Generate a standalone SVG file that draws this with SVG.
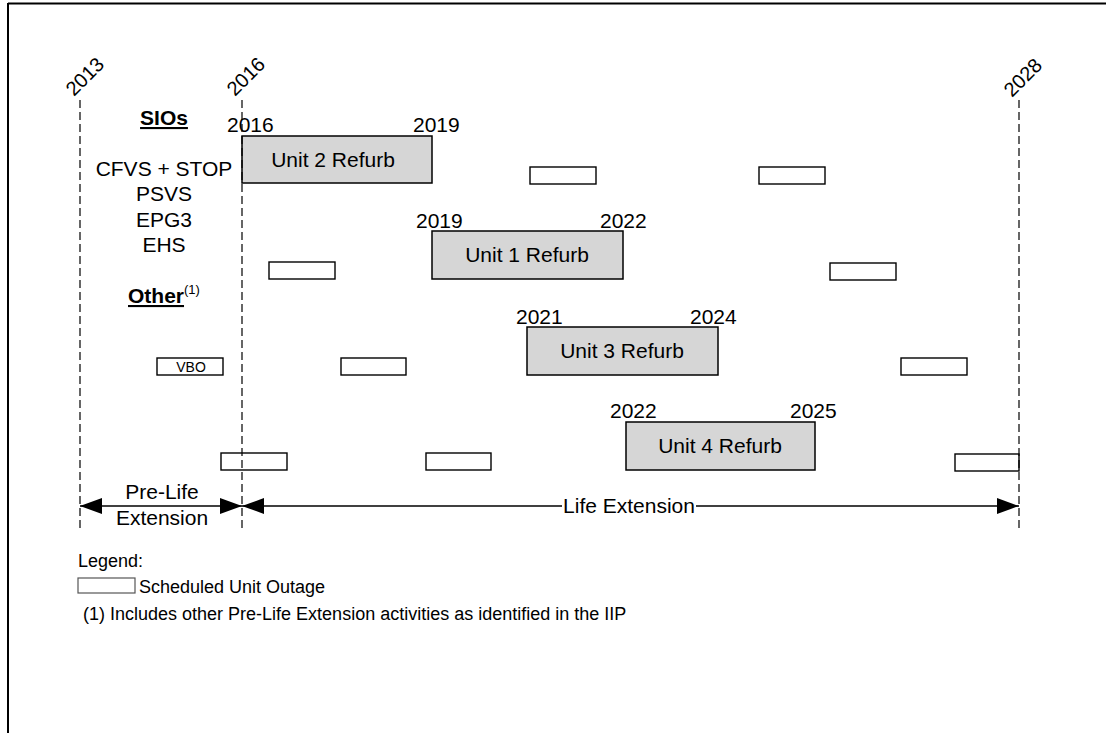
<svg xmlns="http://www.w3.org/2000/svg" width="1106" height="733" viewBox="0 0 1106 733">
<style>
text{font-family:"Liberation Sans",Arial,sans-serif;fill:#000}
.t21{font-size:21px}
.t18{font-size:18px}
.yr{font-size:20px}
.bu{font-weight:bold;text-decoration:underline}
.refurb{fill:#d6d6d6;stroke:#000;stroke-width:1.5}
.out{fill:#fff;stroke:#000;stroke-width:1.4}
.dash{stroke:#000;stroke-width:1.2;stroke-dasharray:8 4;fill:none}
.line{stroke:#000;stroke-width:1.3;fill:none}
</style>
<defs>
<marker id="ah" markerWidth="22" markerHeight="16" refX="22" refY="8" orient="auto-start-reverse" markerUnits="userSpaceOnUse">
<path d="M0,0 L22,8 L0,16 Z" fill="#000"/>
</marker>
</defs>
<rect x="0" y="0" width="1106" height="733" fill="#fff"/>
<path d="M8,3.5 H1106 M8,3 V733" stroke="#000" stroke-width="2" fill="none"/>

<g id="year-axis">
<text class="yr" transform="translate(74,97) rotate(-45)">2013</text>
<text class="yr" transform="translate(235,97) rotate(-45)">2016</text>
<text class="yr" transform="translate(1012,98) rotate(-45)">2028</text>
</g>

<g id="labels">
<text class="t21 bu" x="164" y="125" text-anchor="middle">SIOs</text>
<text class="t21" x="164" y="176" text-anchor="middle">CFVS + STOP</text>
<text class="t21" x="164" y="201" text-anchor="middle">PSVS</text>
<text class="t21" x="164" y="227" text-anchor="middle">EPG3</text>
<text class="t21" x="164" y="252" text-anchor="middle">EHS</text>
<text class="t21" x="128" y="303"><tspan class="bu">Other</tspan><tspan font-size="13" dy="-9">(1)</tspan></text>
</g>

<g id="unit2">
<rect class="refurb" x="242" y="136" width="190" height="47"/>
<text class="t21" x="333" y="167" text-anchor="middle">Unit 2 Refurb</text>
<text class="t21" x="227" y="132">2016</text>
<text class="t21" x="413" y="132">2019</text>
</g>
<g id="unit1">
<rect class="refurb" x="432" y="231" width="191" height="48"/>
<text class="t21" x="527" y="262" text-anchor="middle">Unit 1 Refurb</text>
<text class="t21" x="416" y="228">2019</text>
<text class="t21" x="600" y="228">2022</text>
</g>
<g id="unit3">
<rect class="refurb" x="527" y="327" width="191" height="48"/>
<text class="t21" x="622" y="358" text-anchor="middle">Unit 3 Refurb</text>
<text class="t21" x="516" y="324">2021</text>
<text class="t21" x="690" y="324">2024</text>
</g>
<g id="unit4">
<rect class="refurb" x="626" y="422" width="189" height="48"/>
<text class="t21" x="720" y="453" text-anchor="middle">Unit 4 Refurb</text>
<text class="t21" x="610" y="418">2022</text>
<text class="t21" x="790" y="418">2025</text>
</g>

<g id="outages">
<rect class="out" x="530" y="167" width="66" height="17"/>
<rect class="out" x="759" y="167" width="66" height="17"/>
<rect class="out" x="269" y="262" width="66" height="17"/>
<rect class="out" x="830" y="263" width="66" height="17"/>
<g id="vbo">
<rect class="out" x="157" y="358" width="66" height="17"/>
<text x="191" y="372" font-size="14" text-anchor="middle">VBO</text>
</g>
<rect class="out" x="341" y="358" width="65" height="17"/>
<rect class="out" x="901" y="358" width="66" height="17"/>
<rect class="out" x="221" y="453" width="66" height="17"/>
<rect class="out" x="426" y="453" width="65" height="17"/>
<rect class="out" x="955" y="454" width="64" height="17"/>
</g>

<g id="connectors">
<line class="dash" x1="80" y1="100" x2="80" y2="531"/>
<line class="dash" x1="242" y1="100" x2="242" y2="531"/>
<line class="dash" x1="1019" y1="100" x2="1019" y2="531"/>
<line class="line" x1="80" y1="506" x2="242" y2="506" marker-start="url(#ah)" marker-end="url(#ah)"/>
<line class="line" x1="242" y1="506" x2="562" y2="506" marker-start="url(#ah)"/>
<line class="line" x1="696" y1="506" x2="1019" y2="506" marker-end="url(#ah)"/>
</g>

<g id="phase-labels">
<text class="t21" x="162" y="499" text-anchor="middle">Pre-Life</text>
<text class="t21" x="162" y="525" text-anchor="middle">Extension</text>
<text class="t21" x="629" y="513" text-anchor="middle">Life Extension</text>
</g>

<g id="legend">
<text class="t18" x="78" y="567">Legend:</text>
<rect x="78" y="578" width="57" height="15" fill="#fff" stroke="#555" stroke-width="1.2"/>
<text class="t18" x="139" y="593">Scheduled Unit Outage</text>
<text class="t18" x="83" y="620">(1) Includes other Pre-Life Extension activities as identified in the IIP</text>
</g>
</svg>
